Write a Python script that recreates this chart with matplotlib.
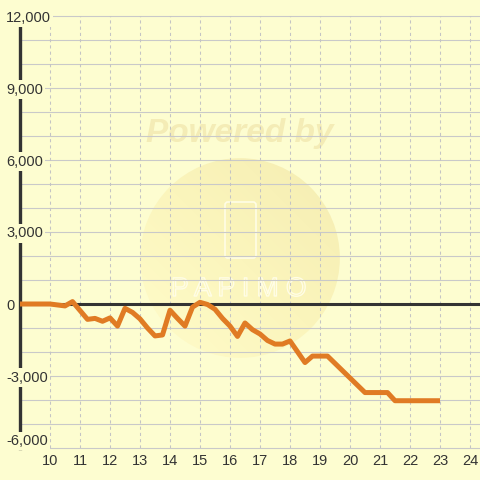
import matplotlib
matplotlib.use('Agg')
import numpy as np
import matplotlib.pyplot as plt
from matplotlib.patches import Circle, FancyBboxPatch
import matplotlib.patheffects as pe
from matplotlib.colors import LinearSegmentedColormap

# cumulative result over time (hours)
hours = [9.0, 10.0, 10.5, 10.75, 11.25, 11.5, 11.75, 12.0, 12.25, 12.5, 12.75,
         13.0, 13.25, 13.5, 13.75, 14.0, 14.25, 14.5, 14.75, 15.0, 15.25,
         15.5, 15.75, 16.0, 16.25, 16.5, 16.75, 17.0, 17.25, 17.5, 17.75,
         18.0, 18.5, 18.75, 19.25, 20.5, 21.25, 21.5, 23.0]
balance = [0, 0, -80, 100, -640, -600, -720, -580, -920, -180, -350,
           -620, -1000, -1330, -1290, -260, -600, -920, -130, 70, -20,
           -220, -600, -920, -1350, -790, -1070, -1250, -1520, -1670, -1670,
           -1540, -2440, -2170, -2170, -3690, -3690, -4030, -4030]

xticks = list(range(10, 25))
yticks = [-6000, -3000, 0, 3000, 6000, 9000, 12000]
ylabels = ['-6,000', '-3,000', '0', '3,000', '6,000', '9,000', '12,000']
ygrid = list(range(-6000, 12001, 1000))

bg = '#fdfdd0'
plt.rcParams['font.family'] = ['Liberation Sans', 'DejaVu Sans']

fig = plt.figure(figsize=(4.8, 4.8), dpi=100, facecolor=bg)
ax = fig.add_axes([20/480, 32/480, 460/480, 432/480])
ax.set_facecolor(bg)

# watermark: pale gradient disc with logo outline
circ = Circle((0.5, 0.4625), 0.208, transform=fig.transFigure,
              facecolor='none', edgecolor='none')
ax.add_patch(circ)
g = np.linspace(0, 1, 200)
grad = (g[None, :] + g[::-1, None]) / 2
cmap = LinearSegmentedColormap.from_list('wm', ['#fffcca', '#fbf5bc', '#f5edb2'])
im = ax.imshow(grad, extent=(13.0, 13.0 + 200/30, -54*1000/24, 146*1000/24),
               aspect='auto', cmap=cmap, zorder=0.4, interpolation='bilinear')
im.set_clip_path(circ)
ax.text(0.5, 0.722, 'Powered by', transform=fig.transFigure, ha='center', va='center',
        fontsize=24, fontweight='bold', fontstyle='italic', color='#f4ecb6', zorder=0.6)
ax.add_patch(FancyBboxPatch((225/480, 1 - 258/480), 31/480, 56/480,
                            boxstyle='round,pad=0,rounding_size=0.006',
                            transform=fig.transFigure, facecolor='none',
                            edgecolor='#fffde6', lw=1.2, zorder=0.6))
ax.text(0.497, 1 - 289/480, 'P A P I M O', transform=fig.transFigure,
        ha='center', va='center', fontsize=19, color='none', zorder=0.6,
        path_effects=[pe.withStroke(linewidth=1.0, foreground='#fffde6')])

ax.set_xlim(9, 9 + 460/30)
ax.set_ylim(-6000, 12000)

# grid
ax.hlines(ygrid, 9, 9 + 460/30, colors='#c9c9c9', lw=0.8, zorder=1.0, clip_on=False)
ax.vlines(xticks, -6000, 12000, colors='#c4c4c4', lw=0.75, linestyles=(0, (3, 3)), zorder=1.0)

ax.axhline(0, color='#333333', lw=2.2, zorder=1.3)

for s in ['top', 'right', 'bottom']:
    ax.spines[s].set_visible(False)
ax.spines['left'].set_color('#333333')
ax.spines['left'].set_linewidth(2.4)
ax.spines['left'].set_zorder(1.2)

ax.plot(hours, balance, color='#e07b24', lw=3.6, solid_joinstyle='round',
        solid_capstyle='butt', zorder=3)

ax.set_xticks(xticks)
ax.set_yticks(yticks)
ax.set_yticklabels(ylabels)
ax.tick_params(axis='both', length=0, labelsize=10.5, labelcolor='#333333')
ax.tick_params(axis='x', pad=4)
ax.tick_params(axis='y', pad=10)
for lab in ax.get_yticklabels():
    lab.set_horizontalalignment('left')
    lab.set_bbox(dict(boxstyle='square,pad=0.15', facecolor=bg, edgecolor='none'))
ax.get_yticklabels()[0].set_verticalalignment('bottom')

fig.savefig('out.png', dpi=100, facecolor=bg)
